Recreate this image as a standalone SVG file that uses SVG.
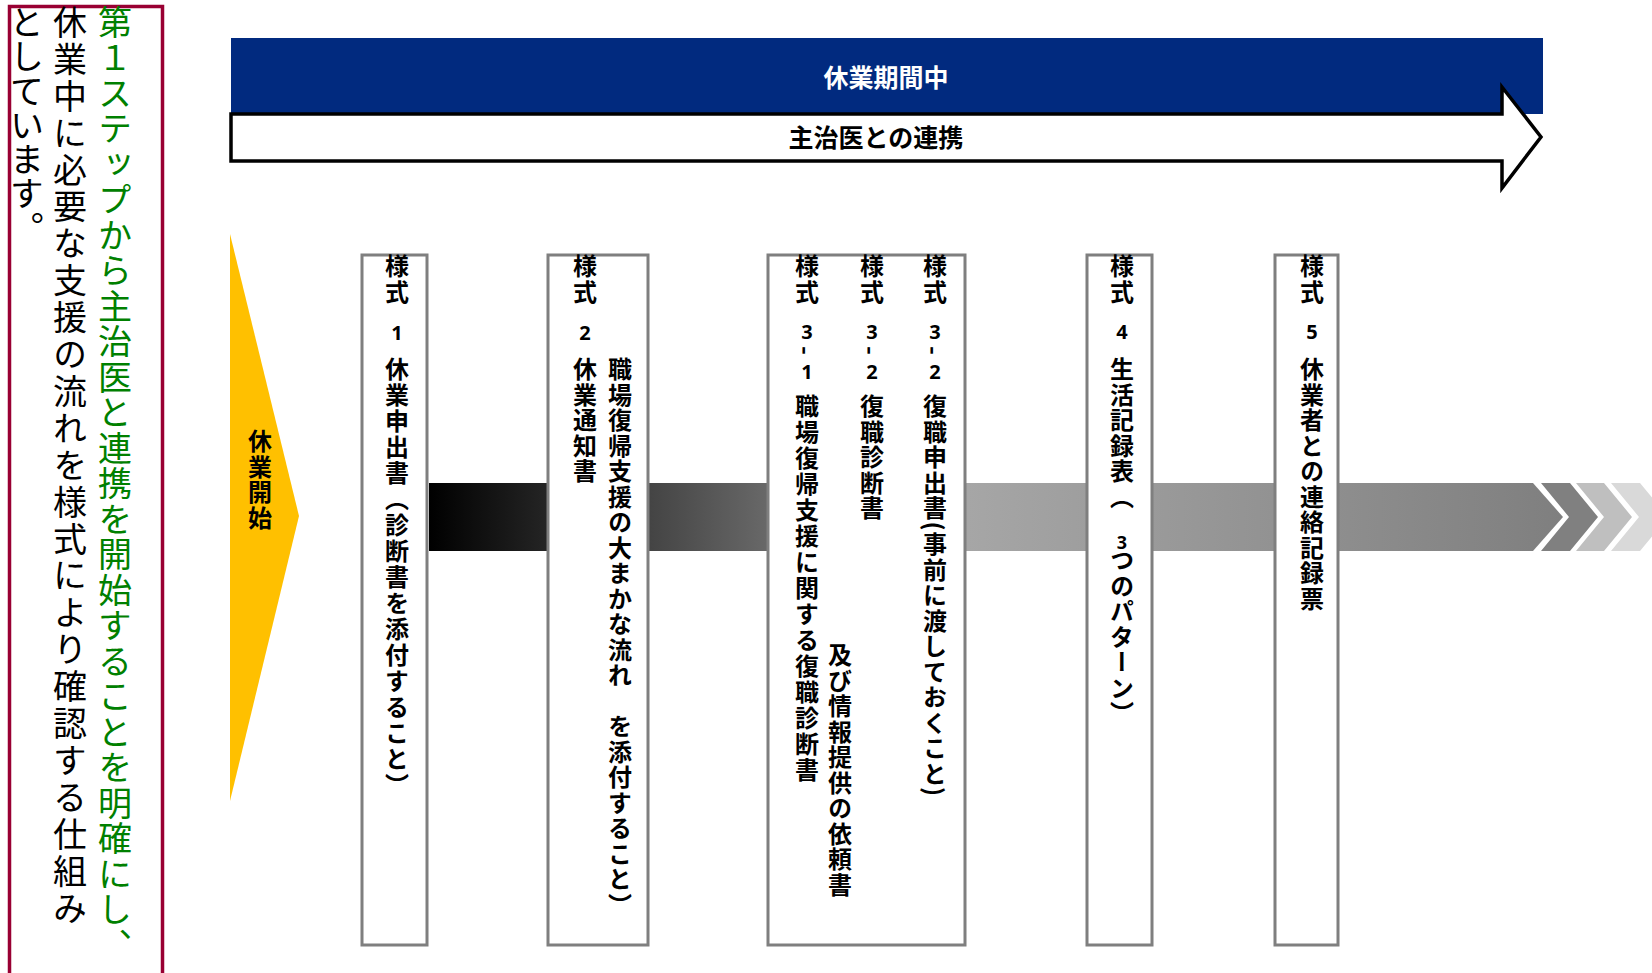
<svg xmlns="http://www.w3.org/2000/svg" width="1652" height="973" viewBox="0 0 1652 973">
<defs>
<style>
.vt{writing-mode:vertical-rl;font-family:"Noto Sans CJK JP","Noto Sans CJK SC",sans-serif;}
.note{font-size:34px;font-weight:400;}
.lbl{font-size:24px;font-weight:700;letter-spacing:1.5px;fill:#000;}
.num{font-family:"Noto Sans","Liberation Sans",sans-serif;font-size:20px;font-weight:700;text-anchor:middle;fill:#000;}
.box{fill:#fff;stroke:#7f7f7f;stroke-width:3;}
.hd{font-family:"Noto Sans CJK JP","Noto Sans CJK SC",sans-serif;font-size:25px;font-weight:700;text-anchor:middle;}
</style>
<linearGradient id="band" gradientUnits="userSpaceOnUse" x1="429" y1="0" x2="1563" y2="0">
<stop offset="0" stop-color="#000"/>
<stop offset="0.475" stop-color="#a6a6a6"/>
<stop offset="1" stop-color="#7f7f7f"/>
</linearGradient>
</defs>
<rect width="1652" height="973" fill="#fff"/>

<g id="note">
<rect x="9.5" y="6.5" width="153" height="970" fill="#fff" stroke="#990033" stroke-width="3.5"/>
<text class="vt note" x="115" y="5" fill="#008000" style="letter-spacing:1.5px">第１ステップから主治医と連携を開始することを明確にし、</text>
<text class="vt note" x="70" y="5" fill="#000" style="letter-spacing:2.9px">休業中に必要な支援の流れを様式により確認する仕組み</text>
<text class="vt note" x="27" y="5" fill="#000" style="letter-spacing:0.3px">としています。</text>
</g>

<g id="period">
<rect x="231" y="38" width="1312" height="76" fill="#012a7f"/>
<text class="hd" x="886" y="87" fill="#fff">休業期間中</text>
</g>

<g id="doctor-arrow">
<polygon points="231,114 1502,114 1502,87 1541,137 1502,188 1502,161 231,161" fill="#fff" stroke="#000" stroke-width="3.5" stroke-linejoin="miter"/>
<text class="hd" x="876" y="147" fill="#000">主治医との連携</text>
</g>

<g id="connectors">
<polygon points="429,483 1533,483 1563,517 1533,551 429,551" fill="url(#band)"/>
<polygon points="1541,483 1570,483 1598,517 1570,551 1541,551 1569,517" fill="#808080"/>
<polygon points="1576,483 1604,483 1632,517 1604,551 1576,551 1604,517" fill="#bfbfbf"/>
<polygon points="1611,483 1640,483 1668,517 1640,551 1611,551 1639,517" fill="#d9d9d9"/>
</g>

<g id="start">
<polygon points="230,234 299,516 230,801" fill="#ffc000"/>
<text class="vt lbl" x="260" y="429">休業開始</text>
</g>

<g id="form1">
<rect class="box" x="362" y="255" width="65" height="690"/>
<text class="vt lbl" x="397" y="254">様式</text>
<text class="num" x="397" y="340">1</text>
<text class="vt lbl" x="397" y="357" style="letter-spacing:2px">休業申出書（診断書を添付すること）</text>
</g>

<g id="form2">
<rect class="box" x="548" y="255" width="100" height="690"/>
<text class="vt lbl" x="585" y="254">様式</text>
<text class="num" x="585" y="340">2</text>
<text class="vt lbl" x="585" y="357">休業通知書</text>
<text class="vt lbl" x="620" y="357">職場復帰支援の大まかな流れ　を添付すること）</text>
</g>

<g id="form3">
<rect class="box" x="768" y="255" width="197" height="690"/>
<text class="vt lbl" x="807" y="254">様式</text>
<text class="num" x="807" y="339">3</text>
<text class="vt lbl" x="807" y="346">-</text>
<text class="num" x="807" y="379">1</text>
<text class="vt lbl" x="807" y="394" style="letter-spacing:2px">職場復帰支援に関する復職診断書</text>
<text class="vt lbl" x="840" y="643">及び情報提供の依頼書</text>
<text class="vt lbl" x="872" y="254">様式</text>
<text class="num" x="872" y="339">3</text>
<text class="vt lbl" x="872" y="346">-</text>
<text class="num" x="872" y="379">2</text>
<text class="vt lbl" x="872" y="394">復職診断書</text>
<text class="vt lbl" x="935" y="254">様式</text>
<text class="num" x="935" y="339">3</text>
<text class="vt lbl" x="935" y="346">-</text>
<text class="num" x="935" y="379">2</text>
<text class="vt lbl" x="935" y="394">復職申出書(事前に渡しておくこと)</text>
</g>

<g id="form4">
<rect class="box" x="1087" y="255" width="65" height="690"/>
<text class="vt lbl" x="1122" y="254">様式</text>
<text class="num" x="1122" y="339">4</text>
<text class="vt lbl" x="1122" y="357">生活記録表（</text>
<text class="num" x="1122" y="549" style="font-size:18px">3</text>
<text class="vt lbl" x="1122" y="548">つのパターン）</text>
</g>

<g id="form5">
<rect class="box" x="1275" y="255" width="63" height="690"/>
<text class="vt lbl" x="1312" y="254">様式</text>
<text class="num" x="1312" y="339">5</text>
<text class="vt lbl" x="1312" y="357">休業者との連絡記録票</text>
</g>
</svg>
